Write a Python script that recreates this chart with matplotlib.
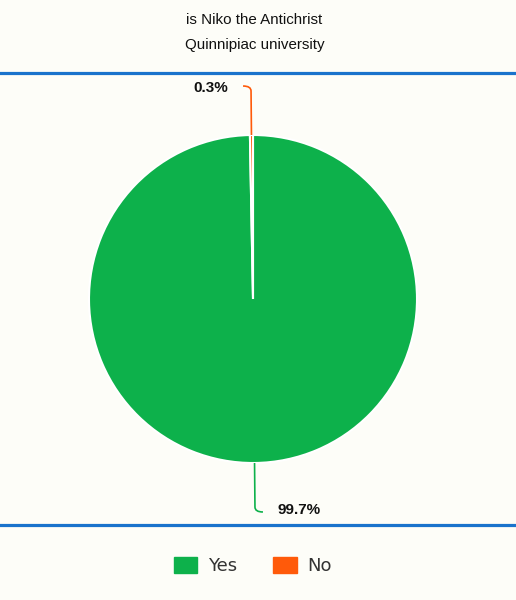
import numpy as np
import matplotlib

matplotlib.use("Agg")
import matplotlib.pyplot as plt
from matplotlib.lines import Line2D
from matplotlib.patches import Patch, PathPatch
from matplotlib.path import Path

title_lines = ["is Niko the Antichrist", "Quinnipiac university"]
categories = ["Yes", "No"]
shares = [99.7, 0.3]
colors = ["#0db14b", "#ff5a0a"]

BG = "#fdfdf8"
BLUE = "#1a73cc"
W, H = 516, 600
R = 164.0
cx, cy = 253, 299  # pie center in pixels (from top)

fig = plt.figure(figsize=(W / 100, H / 100), dpi=100, facecolor=BG)

# title
fig.text(0.493, 1 - 20 / H, title_lines[0], ha="center", va="center",
         fontsize=10.9, family="Liberation Sans", color="#111111")
fig.text(0.493, 1 - 45 / H, title_lines[1], ha="center", va="center",
         fontsize=10.9, family="Liberation Sans", color="#111111")

# blue rules
for yp in (73, 525):
    fig.add_artist(Line2D([0, 1], [1 - yp / H, 1 - yp / H], transform=fig.transFigure,
                          color=BLUE, lw=2.3))

half = 220
ax = fig.add_axes([(cx - half) / W, (H - cy - half) / H, 2 * half / W, 2 * half / H])
ax.set_facecolor("none")

wedges, _ = ax.pie(shares, colors=colors, radius=R, startangle=90, counterclock=False,
                   wedgeprops=dict(edgecolor="white", linewidth=1.5))
ax.set_xlim(-half, half)
ax.set_ylim(-half, half)
ax.set_aspect("equal")
ax.axis("off")

# leader lines and labels
for w, val, col in zip(wedges, shares, colors):
    mid = np.deg2rad((w.theta1 + w.theta2) / 2)
    ux, uy = np.cos(mid), np.sin(mid)
    x0, y0 = R * ux, R * uy
    x1, y1 = (R + 44) * ux, (R + 44) * uy
    side = -1 if uy > 0 else 1
    x2, y2 = x1 + 8 * side, y1 + 5 * np.sign(uy)
    path = Path([(x0, y0), (x1, y1), (x1, y2), (x2, y2)],
                [Path.MOVETO, Path.LINETO, Path.CURVE3, Path.CURVE3])
    ax.add_patch(PathPatch(path, fill=False, edgecolor=col, lw=1.2))
    ax.text(x2 + 15 * side, y2 - 2 * np.sign(uy), f"{val}%",
            ha="left" if side > 0 else "right", va="center",
            fontsize=11, fontweight="bold", family="Liberation Sans", color="#111111")

handles = [Patch(facecolor=c, edgecolor=c) for c in colors]
fig.legend(handles, categories, loc="center", bbox_to_anchor=(0.49, 1 - 566 / H), ncol=2,
           frameon=False, fontsize=13, handlelength=1.3, handleheight=0.95,
           handletextpad=0.6, columnspacing=2.0, labelcolor="#333333")

fig.savefig("out.png", dpi=100, facecolor=BG)
